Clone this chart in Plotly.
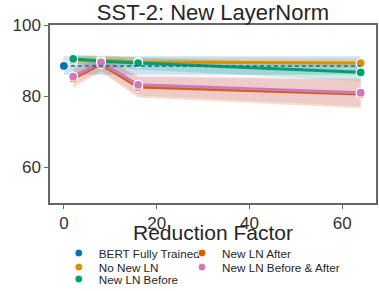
import plotly.graph_objects as go

# ---- data ----
reduction = [2, 8, 16, 64]
bert_x = [0, 64]
bert_y = [88.5, 88.5]
bert_lo = [86.0, 86.0]
bert_hi = [91.2, 91.2]

no_ln_y = [90.0, 90.2, 89.6, 89.3]
no_ln_lo = [88.8, 88.8, 88.3, 88.0]
no_ln_hi = [91.2, 91.6, 90.8, 90.5]

before_y = [90.5, 89.8, 89.3, 86.7]
before_lo = [89.2, 88.3, 87.5, 84.3]
before_hi = [91.7, 91.2, 90.8, 88.9]

after_y = [85.0, 89.0, 82.6, 80.6]
after_lo = [82.5, 86.8, 79.6, 76.6]
after_hi = [87.4, 91.0, 85.4, 84.6]

both_y = [85.5, 89.5, 83.2, 81.0]
both_lo = [83.2, 87.3, 80.2, 77.2]
both_hi = [87.8, 91.4, 85.8, 85.0]

names = ["BERT Fully Trained", "No New LN", "New LN Before", "New LN After", "New LN Before & After"]
colors = ["#0173b2", "#de8f05", "#029e73", "#d55e00", "#cc78bc"]
band_colors = ["rgba(1,115,178,0.2)", "rgba(222,143,5,0.2)", "rgba(2,158,115,0.2)",
               "rgba(213,94,0,0.2)", "rgba(204,120,188,0.2)"]

fig = go.Figure()

def band(x, lo, hi, col):
    fig.add_trace(go.Scatter(x=x, y=lo, mode="lines", line=dict(width=0), showlegend=False, hoverinfo="skip"))
    fig.add_trace(go.Scatter(x=x, y=hi, mode="lines", line=dict(width=0), fill="tonexty",
                             fillcolor=col, showlegend=False, hoverinfo="skip"))

band(bert_x, bert_lo, bert_hi, band_colors[0])
series = [(no_ln_y, no_ln_lo, no_ln_hi), (before_y, before_lo, before_hi),
          (after_y, after_lo, after_hi), (both_y, both_lo, both_hi)]
for i, (y, lo, hi) in enumerate(series, start=1):
    band(reduction, lo, hi, band_colors[i])

legend_ids = ["legend", "legend2", "legend3", "legend4", "legend5"]

for i, (y, lo, hi) in enumerate(series, start=1):
    fig.add_trace(go.Scatter(
        x=reduction, y=y, mode="lines+markers", name=names[i],
        line=dict(color=colors[i], width=3),
        marker=dict(size=9, color=colors[i], line=dict(color="white", width=1.2)),
        showlegend=False))

# BERT: marker only at x=0 (second point's marker transparent)
fig.add_trace(go.Scatter(
    x=bert_x, y=bert_y, mode="lines+markers", name=names[0],
    line=dict(color=colors[0], width=1.5, dash="4px,3px"),
    marker=dict(size=9, color=[colors[0], "rgba(0,0,0,0)"],
                line=dict(color=["white", "rgba(0,0,0,0)"], width=1.2)),
    showlegend=False))

# legend-only entries (compact marker symbols)
for k in range(5):
    fig.add_trace(go.Scatter(
        x=[None], y=[None], mode="markers", name=names[k],
        marker=dict(size=8, color=colors[k], line=dict(color="white", width=1)),
        legend=legend_ids[k]))

axis_common = dict(showline=True, linecolor="#666", linewidth=1.5, mirror=True,
                   ticks="outside", ticklen=4, tickcolor="#666", showgrid=False,
                   zeroline=False, tickfont=dict(size=17, color="#333"))

# legend placement (paper coords): column x, row y centres
col_x = [0.027, 0.027, 0.027, 0.405, 0.405]
row_y = [-0.281, -0.360, -0.427, -0.281, -0.360]
legends = {}
for k, lid in enumerate(legend_ids):
    legends[lid] = dict(x=col_x[k], y=row_y[k], xanchor="left", yanchor="middle",
                        font=dict(size=11.7, color="#262626"), itemwidth=30,
                        bgcolor="rgba(0,0,0,0)", traceorder="normal")

fig.update_layout(
    width=379, height=291,
    margin=dict(l=50, r=3, t=25, b=88, autoexpand=False),
    paper_bgcolor="white", plot_bgcolor="white",
    font=dict(family="Liberation Sans, Arial, sans-serif", color="#262626"),
    title=dict(text="SST-2: New LayerNorm", x=0.562, xref="container", xanchor="center",
               y=0.985, yanchor="top", font=dict(size=22, color="#262626")),
    xaxis=dict(range=[-3, 67.3], tickvals=[0, 20, 40, 60], **axis_common),
    yaxis=dict(range=[50, 100], tickvals=[60, 80, 100], **axis_common),
    annotations=[dict(text="Reduction Factor", x=0.5, xref="paper", y=0, yref="paper",
                      xanchor="center", yanchor="top", yshift=-16, showarrow=False,
                      font=dict(size=21, color="#262626"))],
    **legends,
)

fig.write_html("out.html", config={"displayModeBar": False},
               post_script="document.body.style.margin='0';document.body.style.overflow='hidden';")
